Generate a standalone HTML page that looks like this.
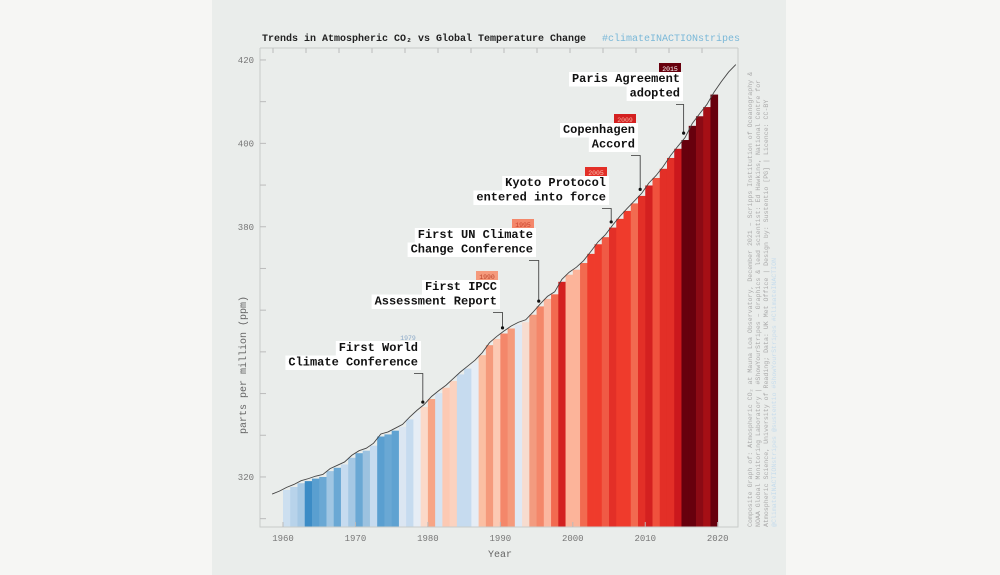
<!DOCTYPE html>
<html><head><meta charset="utf-8"><style>
body{margin:0;background:#f6f6f4;}
svg{display:block;font-family:"Liberation Mono","DejaVu Sans Mono",monospace;}
</style></head><body>
<svg id="chart" width="1000" height="575" viewBox="0 0 1000 575">
<rect x="0" y="0" width="1000" height="575" fill="#f6f6f4"/>
<rect x="212" y="0" width="574" height="575" fill="#eaedeb"/>
<text x="262" y="41" font-size="10" font-weight="bold" fill="#222">Trends in Atmospheric CO₂ vs Global Temperature Change</text>
<text x="740" y="41" font-size="10" fill="#7ab8d8" text-anchor="end">#climateINACTIONstripes</text>
<g id="stripes"></g>
<g id="axes"></g>
<g id="notes"></g>
<text x="500" y="557" font-size="10" fill="#666" text-anchor="middle">Year</text>
<text transform="translate(246,365) rotate(-90)" font-size="10" fill="#666" text-anchor="middle">parts per million (ppm)</text>
<g transform="translate(752,527) rotate(-90)" font-size="6.6">
<text x="0" y="0" fill="#aaa">Composite Graph of: Atmospheric CO₂ at Mauna Loa Observatory, December 2021 – Scripps Institution of Oceanography &amp;</text>
<text x="0" y="8" fill="#aaa">NOAA Global Monitoring Laboratory | #ShowYourStripes – Graphics &amp; lead scientist: Ed Hawkins, National Centre for</text>
<text x="0" y="16" fill="#aaa">Atmospheric Science, University of Reading; Data: UK Met Office | Design by: Sustentio [PG] | Licence: CC-BY</text>
<text x="0" y="24" fill="#c6dcec">@ClimateINACTIONstripes @sustentio #ShowYourStripes #ClimateINACTION</text>
</g>
</svg>
<script>
const stripeYears=[];for(let y=1960;y<=2019;y++)stripeYears.push(y);
const stripeColors=["#ccdff0","#b8d3ea","#a5c8e4","#3c8cc6","#5a9fd0","#6aa8d4","#a0c6e3","#6aa8d4","#c6dbef","#a5c8e4",
"#6aa8d4","#9cc2e0","#c6dbef","#5a9fd0","#6aa8d4","#5fa2d1","#dbe6f2","#c6dbef","#e6edf5","#fbd9c9",
"#f7a586","#d5e3f1","#fcc9b3","#fbd2bf","#c6dbef","#c6dbef","#e6edf5","#fbbfa3","#f59a7c","#fcc9b3",
"#f4876a","#f59a7c","#dfe8f3","#f7dccf","#f39b7f","#f4876a","#fbb7a0","#f26a50","#d32020","#fcb49a",
"#fcb49a","#f26a50","#ef3b2c","#ef3b2c","#f05a45","#e32f27","#ef3b2c","#ef3b2c","#f26a50","#e32f27",
"#d42020","#f0513d","#e32f27","#e32f27","#cb181d","#67000d","#67000d","#8b0a14","#a50f15","#67000d"];
const co2Years=[];for(let y=1958;y<=2022;y++)co2Years.push(y);
const co2Values=[315.3,316.0,316.9,317.6,318.5,319.0,319.6,320.0,321.4,322.2,323.0,324.6,325.7,326.3,327.5,329.7,330.2,331.1,332.0,333.8,
335.4,336.8,338.7,340.1,341.4,343.0,344.6,346.0,347.4,349.2,351.6,353.1,354.4,355.6,356.5,357.1,358.9,360.9,362.7,363.8,
366.8,368.5,369.7,371.3,373.5,375.8,377.5,379.8,381.9,383.8,385.6,387.4,389.9,391.7,393.9,396.5,398.7,400.8,404.2,406.5,
408.7,411.7,414.2,416.5,418.3];
const xTicks=[1960,1970,1980,1990,2000,2010,2020];
const yTickLabels=[320,380,400,420];
const yMinor=[310,320,330,340,350,360,370,380,390,400,410,420];
const notes=[
{year:2015,tag:"2015",tagColor:"#67000d",tagText:"#fff",lines:["Paris Agreement","adopted"],tx:680,ty:82,dotPpm:401.5},
{year:2009,tag:"2009",tagColor:"#d42020",tagText:"#f5b0a0",lines:["Copenhagen","Accord"],tx:635,ty:133,dotPpm:388.0},
{year:2005,tag:"2005",tagColor:"#e32f27",tagText:"#f9c0b0",lines:["Kyoto Protocol","entered into force"],tx:606,ty:186,dotPpm:380.2},
{year:1995,tag:"1995",tagColor:"#f4876a",tagText:"#c8402a",lines:["First UN Climate","Change Conference"],tx:533,ty:238,dotPpm:361.2},
{year:1990,tag:"1990",tagColor:"#f59a7c",tagText:"#b84028",lines:["First IPCC","Assessment Report"],tx:497,ty:290,dotPpm:354.8},
{year:1979,tag:"1979",tagColor:null,tagText:"#8aa8c8",lines:["First World","Climate Conference"],tx:418,ty:351,dotPpm:337.0}];
const NS="http://www.w3.org/2000/svg";
const X=y=>283+(y-1960)*7.245;
const Y=v=>527-(v-308)*4.17;
function mk(t,a,p){const e=document.createElementNS(NS,t);for(const k in a)e.setAttribute(k,a[k]);p.appendChild(e);return e;}
const sg=document.getElementById('stripes');
stripeYears.forEach((yr,i)=>{const v=co2Values[co2Years.indexOf(yr)];
const r=mk('rect',{x:X(yr),y:Y(v),width:7.245+0.4,height:527-Y(v),fill:stripeColors[i]},sg);

});
const pts=co2Years.map((yr,i)=>X(yr+0.5)+','+Y(co2Values[i]+0.6)).join(' ');
const ln=mk('polyline',{points:pts,fill:'none',stroke:'#444',"stroke-width":0.9},sg);


const ax=document.getElementById('axes');
mk('path',{d:'M260,48V527H738V48',fill:'none',stroke:'#c8ccca','stroke-width':1},ax);
mk('line',{x1:260,y1:48,x2:738,y2:48,stroke:'#c8ccca'},ax);
for(let i=0;i<14;i++){mk('line',{x1:273+i*33,y1:48,x2:273+i*33,y2:53,stroke:'#bbb'},ax);}
xTicks.forEach(t=>{mk('line',{x1:X(t),y1:527,x2:X(t),y2:522,stroke:'#bbb'},ax);
const tx=mk('text',{x:X(t),y:541,'font-size':9,fill:'#777','text-anchor':'middle'},ax);tx.textContent=t;

});
yMinor.forEach(t=>{mk('line',{x1:260,y1:Y(t),x2:266,y2:Y(t),stroke:'#bbb'},ax);});
yTickLabels.forEach(t=>{const tx=mk('text',{x:254,y:Y(t)+3,'font-size':9,fill:'#777','text-anchor':'end'},ax);tx.textContent=t;

});
const ng=document.getElementById('notes');
notes.forEach(n=>{const g=mk('g',{},ng);


if(n.tagColor)mk('rect',{x:n.tx-21,y:n.ty-19,width:22,height:11,fill:n.tagColor},g);
const tg=mk('text',{x:n.tx-10,y:n.ty-11,'font-size':6.5,fill:n.tagText,'text-anchor':'middle'},g);tg.textContent=n.tag;
n.lines.forEach((l,j)=>{const w=l.length*7.2+6;
mk('rect',{x:n.tx-w+3,y:n.ty-10+j*14.5,width:w,height:14.5,fill:'#fff'},g);
const t=mk('text',{x:n.tx,y:n.ty+j*14.5,'font-size':12,'font-weight':'bold',fill:'#111','text-anchor':'end'},g);t.textContent=l;});
const dx=X(n.year+0.3),dy=Y(n.dotPpm)-4,by=n.ty+14.5+8;
mk('path',{d:`M${n.tx-4},${by}H${dx}V${dy}`,fill:'none',stroke:'#333','stroke-width':0.8},g);
mk('circle',{cx:dx,cy:dy,r:1.6,fill:'#111'},g);});
</script>
</body></html>
